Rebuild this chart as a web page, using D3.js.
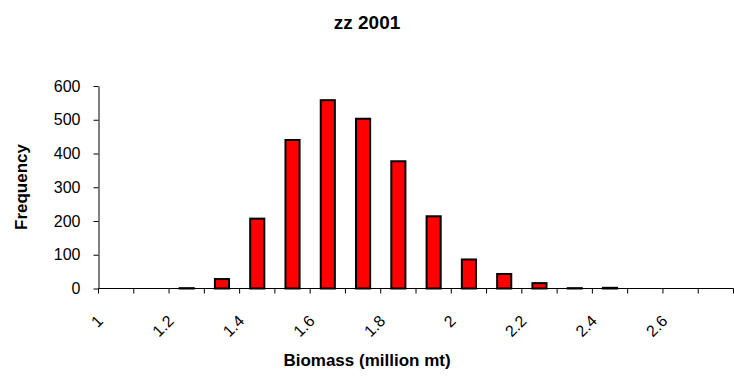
<!DOCTYPE html>
<html>
<head>
<meta charset="utf-8">
<script src="https://cdn.jsdelivr.net/npm/d3@7"></script>
<style>
  html, body { margin: 0; padding: 0; background: #fff; }
  svg { display: block; font-family: "Liberation Sans", Arial, sans-serif; }
</style>
</head>
<body>
<svg id="chart" width="734" height="381"></svg>
<script>
const categories = [1, 1.1, 1.2, 1.3, 1.4, 1.5, 1.6, 1.7, 1.8, 1.9, 2, 2.1, 2.2, 2.3, 2.4, 2.5, 2.6, 2.7];
const frequency = [0, 0, 1, 28, 207, 440, 558, 503, 377, 214, 86, 43, 16, 1, 2, 0, 0, 0];
const yTicks = [0, 100, 200, 300, 400, 500, 600];
const xTickLabels = ["1", "1.2", "1.4", "1.6", "1.8", "2", "2.2", "2.4", "2.6"];
const title = "zz 2001";
const xTitle = "Biomass (million mt)";
const yTitle = "Frequency";

const svg = d3.select("#chart");
const mLeft = 98.5, mRight = 733.5, mTop = 86, mBottom = 288.5;

const x = d3.scaleBand().domain(categories.map(String)).range([mLeft, mRight]).paddingInner(0).paddingOuter(0);
const y = d3.scaleLinear().domain([0, 600]).range([mBottom, mTop]);

// title
svg.append("text").attr("x", 367).attr("y", 29).attr("text-anchor", "middle")
  .attr("font-size", 19).attr("font-weight", "bold").text(title);

// bars
const barW = x.bandwidth() / 2.5;
svg.append("g").selectAll("rect").data(categories).join("rect")
  .attr("x", (d) => x(String(d)) + (x.bandwidth() - barW) / 2)
  .attr("y", (d, i) => y(frequency[i]))
  .attr("width", barW)
  .attr("height", (d, i) => y(0) - y(frequency[i]))
  .attr("fill", "#ff0000").attr("stroke", "#000").attr("stroke-width", 2);

// y axis
const yAxis = svg.append("g").attr("transform", `translate(${mLeft},0)`)
  .call(d3.axisLeft(y).tickValues(yTicks).tickSize(5).tickSizeOuter(0).tickPadding(13));
yAxis.selectAll("text").attr("font-size", 16).attr("font-family", "Liberation Sans, Arial, sans-serif").attr("fill", "#000");
yAxis.select(".domain").attr("stroke", "#000");

// x axis line and ticks between categories
const xg = svg.append("g");
xg.append("line").attr("x1", mLeft).attr("x2", mRight).attr("y1", mBottom).attr("y2", mBottom).attr("stroke", "#000");
const boundaries = categories.map((d) => x(String(d))).concat([x(String(categories[categories.length - 1])) + x.bandwidth()]);
xg.selectAll("line.tk").data(boundaries).join("line").attr("class", "tk")
  .attr("x1", (d) => d).attr("x2", (d) => d).attr("y1", mBottom).attr("y2", mBottom + 5).attr("stroke", "#000");

// x labels every other category
xg.selectAll("text.xl").data(categories.filter((d, i) => i % 2 === 0)).join("text").attr("class", "xl")
  .attr("transform", (d) => `translate(${x(String(d)) + x.bandwidth() / 2 - 12},322) rotate(-45)`)
  .attr("text-anchor", "end").attr("font-size", 16).text((d, i) => xTickLabels[i]);

// axis titles
svg.append("text").attr("x", 367).attr("y", 366).attr("text-anchor", "middle")
  .attr("font-size", 17).attr("font-weight", "bold").text(xTitle);
svg.append("text").attr("transform", "translate(27,187) rotate(-90)").attr("text-anchor", "middle")
  .attr("font-size", 17).attr("font-weight", "bold").text(yTitle);
</script>
</body>
</html>
